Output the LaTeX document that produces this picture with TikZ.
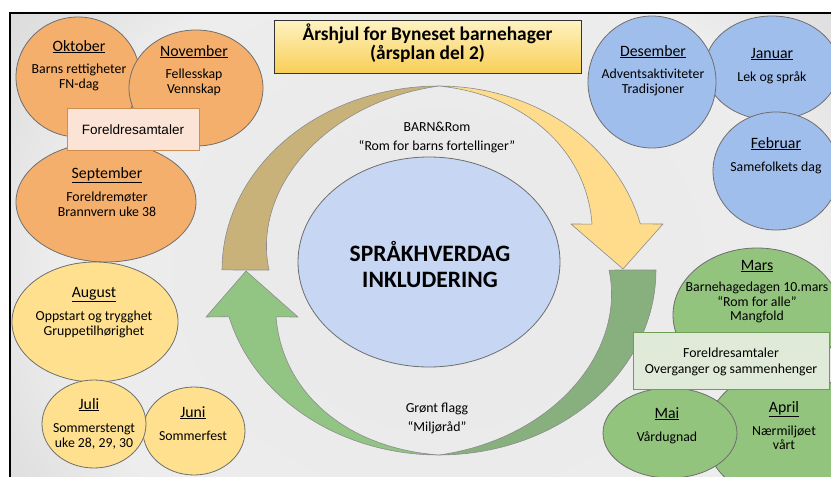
\documentclass[tikz,border=0pt]{standalone}
\usepackage{fontspec}
\setmainfont{Carlito}
\newfontfamily\arialfont{Liberation Sans}
\usetikzlibrary{shapes.geometric}
\definecolor{orangeF}{HTML}{F4AF6C}
\definecolor{yellowF}{HTML}{FEE08F}
\definecolor{blueF}{HTML}{A0BEEC}
\definecolor{greenF}{HTML}{93C47D}
\definecolor{centerF}{HTML}{C6D6F3}
\definecolor{edgeC}{HTML}{6E6E6E}
\definecolor{brownA}{HTML}{C9B27A}
\definecolor{yellowA}{HTML}{FEDC8C}
\definecolor{greenA}{HTML}{88AF7E}
\definecolor{greenB}{HTML}{92C483}
\definecolor{arrowEdge}{HTML}{8C8C8C}
\definecolor{boxoneF}{HTML}{FBE4D5}
\definecolor{boxoneD}{HTML}{D08B4E}
\definecolor{boxtwoF}{HTML}{DFEBD8}
\definecolor{boxtwoD}{HTML}{6E9E55}
\definecolor{titleTop}{HTML}{FFF3C2}
\definecolor{titleBot}{HTML}{F8CE56}
\definecolor{bgA}{HTML}{E8E8E8}
\definecolor{bgB}{HTML}{EDEDED}
\definecolor{bgC}{HTML}{E1E1E1}
\definecolor{bgD}{HTML}{D6D6D6}
\definecolor{bgE}{HTML}{C2C2C2}
\definecolor{bgF}{HTML}{B0B0B0}
\pgfdeclareradialshading{bgshade}{\pgfpoint{0bp}{0bp}}{color(0bp)=(bgA); color(17bp)=(bgB); color(21bp)=(bgC); color(27bp)=(bgD); color(38bp)=(bgE); color(47bp)=(bgF); color(50bp)=(bgF)}
\begin{document}
\begin{tikzpicture}[x=1pt,y=-1pt,
  mon/.style={ellipse, draw=edgeC, line width=0.8pt, inner sep=0pt},
  ttl/.style={anchor=base, font=\fontsize{15.8}{18}\selectfont},
  txt/.style={anchor=base, font=\fontsize{13.8}{16}\selectfont},
  band/.style={draw=arrowEdge, line width=0.6pt, line join=round}]
\useasboundingbox (0,0) rectangle (831,477);
\clip (0,0) rectangle (831,477);
\fill[white] (0,0) rectangle (831,477);
\begin{scope}
  \clip (10,13) rectangle (900,600);
  \shade[shading=bgshade] (-121,-205) rectangle (999,745);
\end{scope}
\draw[line width=1.6pt] (10,13) rectangle (900,600);

% ring arrows
\fill[brownA, band] plot[domain=0:1, samples=40, variable=\t] ({439+217*cos(90+90*\t)}, {270-184*sin(90+90*\t)})
  -- plot[domain=0:1, samples=40, variable=\s] ({439+(217-47*(1-\s))*cos(90+90*(1-\s))}, {270-(184-47*(1-\s))*sin(90+90*(1-\s))}) -- cycle;
\fill[yellowA, band] plot[domain=0:1, samples=40, variable=\t] ({439+208*cos(90-75.5*\t)}, {270-184*sin(90-75.5*\t)})
  -- (663,224) -- (623,269) -- (571,224)
  -- plot[domain=0:1, samples=40, variable=\s] ({439+(208-48*(1-\s))*cos(90-73*(1-\s))}, {270-(184-27*(1-\s))*sin(90-73*(1-\s))}) -- cycle;
\fill[greenA, band] plot[domain=0:1, samples=40, variable=\s] ({439+217*cos(-90*\s)}, {270-185*sin(-90*\s)})
  -- plot[domain=0:1, samples=40, variable=\s] ({439+(217-47*\s)*cos(-90*(1-\s))}, {270-(185-47*\s)*sin(-90*(1-\s))}) -- cycle;
\fill[greenB, band] plot[domain=0:1, samples=40, variable=\t] ({439+217*cos(270-75.4*\t)}, {270-185*sin(270-75.4*\t)})
  -- (206,317) -- (246,271) -- (298,317)
  -- plot[domain=0:1, samples=40, variable=\s] ({439+(217-47*(1-\s))*cos(270-73.5*(1-\s))}, {270-(185-20*(1-\s))*sin(270-73.5*(1-\s))}) -- cycle;

% center
\node[mon, fill=centerF, minimum width=262pt, minimum height=210pt] (core) at (429,262) {};
\node[anchor=base, font=\fontsize{23.5}{26}\selectfont\bfseries] (core1) at (430,261.5) {SPRÅKHVERDAG};
\node[anchor=base, font=\fontsize{23.5}{26}\selectfont\bfseries] (core2) at (430,287.5) {INKLUDERING};
\node[txt] (barn1) at (437,131) {BARN\&Rom};
\node[txt] (barn2) at (437,150) {“Rom for barns fortellinger”};
\node[txt] (gf1) at (437,412) {Grønt flagg};
\node[txt] (gf2) at (437,431) {“Miljøråd”};

% title
\node[draw=black!80, line width=0.8pt, top color=titleTop, bottom color=titleBot, minimum width=307pt, minimum height=53pt, inner sep=0pt] (title) at (427.5,46.5) {};
\node[anchor=base, font=\fontsize{19.4}{22}\selectfont\bfseries] (title1) at (427.5,40) {Årshjul for Byneset barnehager};
\node[anchor=base, font=\fontsize{19.4}{22}\selectfont\bfseries] (title2) at (427.5,59.5) {(årsplan del 2)};

% autumn (orange)
\node[mon, fill=orangeF, minimum width=124pt, minimum height=120pt] (okt) at (78,77) {};
\node[mon, fill=orangeF, minimum width=134pt, minimum height=116pt] (nov) at (196,88) {};
\node[mon, fill=orangeF, minimum width=180pt, minimum height=120pt] (sep) at (106,202) {};
\node[draw=boxoneD, line width=0.8pt, fill=boxoneF, minimum width=132pt, minimum height=42pt, inner sep=0pt] (fs1) at (133,129) {};
\node[anchor=base, font=\arialfont\fontsize{13.5}{16}\selectfont] (fs1t) at (133,134) {Foreldresamtaler};
\node[ttl] (okt-t) at (79,51) {\underline{Oktober}};
\node[txt] (okt-1) at (79,73) {Barns rettigheter};
\node[txt] (okt-2) at (79,88) {FN-dag};
\node[ttl] (nov-t) at (194,56) {\underline{November}};
\node[txt] (nov-1) at (194,78) {Fellesskap};
\node[txt] (nov-2) at (194,93) {Vennskap};
\node[ttl] (sep-t) at (107,178) {\underline{September}};
\node[txt] (sep-1) at (107,201) {Foreldremøter};
\node[txt] (sep-2) at (107,216) {Brannvern uke 38};

% summer (yellow)
\node[mon, fill=yellowF, minimum width=166pt, minimum height=120pt] (aug) at (95,322) {};
\node[mon, fill=yellowF, minimum width=102pt, minimum height=88pt] (jun) at (194,431) {};
\node[mon, fill=yellowF, minimum width=104pt, minimum height=88pt] (jul) at (94,424) {};
\node[ttl] (aug-t) at (94,297) {\underline{August}};
\node[txt] (aug-1) at (94,320) {Oppstart og trygghet};
\node[txt] (aug-2) at (94,335) {Gruppetilhørighet};
\node[ttl] (jul-t) at (89,409) {\underline{Juli}};
\node[txt] (jul-1) at (94,432) {Sommerstengt};
\node[txt] (jul-2) at (94,447) {uke 28, 29, 30};
\node[ttl] (jun-t) at (193,417) {\underline{Juni}};
\node[txt] (jun-1) at (193,440) {Sommerfest};

% winter (blue)
\node[mon, fill=blueF, minimum width=134pt, minimum height=104pt] (jan) at (772,68) {};
\node[mon, fill=blueF, minimum width=128pt, minimum height=132pt] (des) at (652,82) {};
\node[mon, fill=blueF, minimum width=126pt, minimum height=118pt] (feb) at (776,171) {};
\node[ttl] (des-t) at (653,56) {\underline{Desember}};
\node[txt] (des-1) at (653,78) {Adventsaktiviteter};
\node[txt] (des-2) at (653,93) {Tradisjoner};
\node[ttl] (jan-t) at (772,58) {\underline{Januar}};
\node[txt] (jan-1) at (772,81) {Lek og språk};
\node[ttl] (feb-t) at (776,148) {\underline{Februar}};
\node[txt] (feb-1) at (776,171) {Samefolkets dag};

% spring (green)
\node[mon, fill=greenF, minimum width=168pt, minimum height=134pt] (mar) at (757,315) {};
\node[mon, fill=greenF, minimum width=156pt, minimum height=130pt] (apr) at (784,435) {};
\node[mon, fill=greenF, minimum width=134pt, minimum height=90pt] (mai) at (670,433) {};
\node[draw=boxtwoD, line width=0.8pt, fill=boxtwoF, minimum width=196pt, minimum height=57pt, inner sep=0pt] (fs2) at (731,360.5) {};
\node[ttl] (mar-t) at (757,270) {\underline{Mars}};
\node[txt] (mar-1) at (757,291) {Barnehagedagen 10.mars};
\node[txt] (mar-2) at (757,306) {“Rom for alle”};
\node[txt] (mar-3) at (757,320) {Mangfold};
\node[txt] (fs2-1) at (731,357) {Foreldresamtaler};
\node[txt] (fs2-2) at (731,373) {Overganger og sammenhenger};
\node[ttl] (mai-t) at (667,418) {\underline{Mai}};
\node[txt] (mai-1) at (667,441) {Vårdugnad};
\node[ttl] (apr-t) at (784,412) {\underline{April}};
\node[txt] (apr-1) at (784,435) {Nærmiljøet};
\node[txt] (apr-2) at (784,449) {vårt};
\end{tikzpicture}
\end{document}
